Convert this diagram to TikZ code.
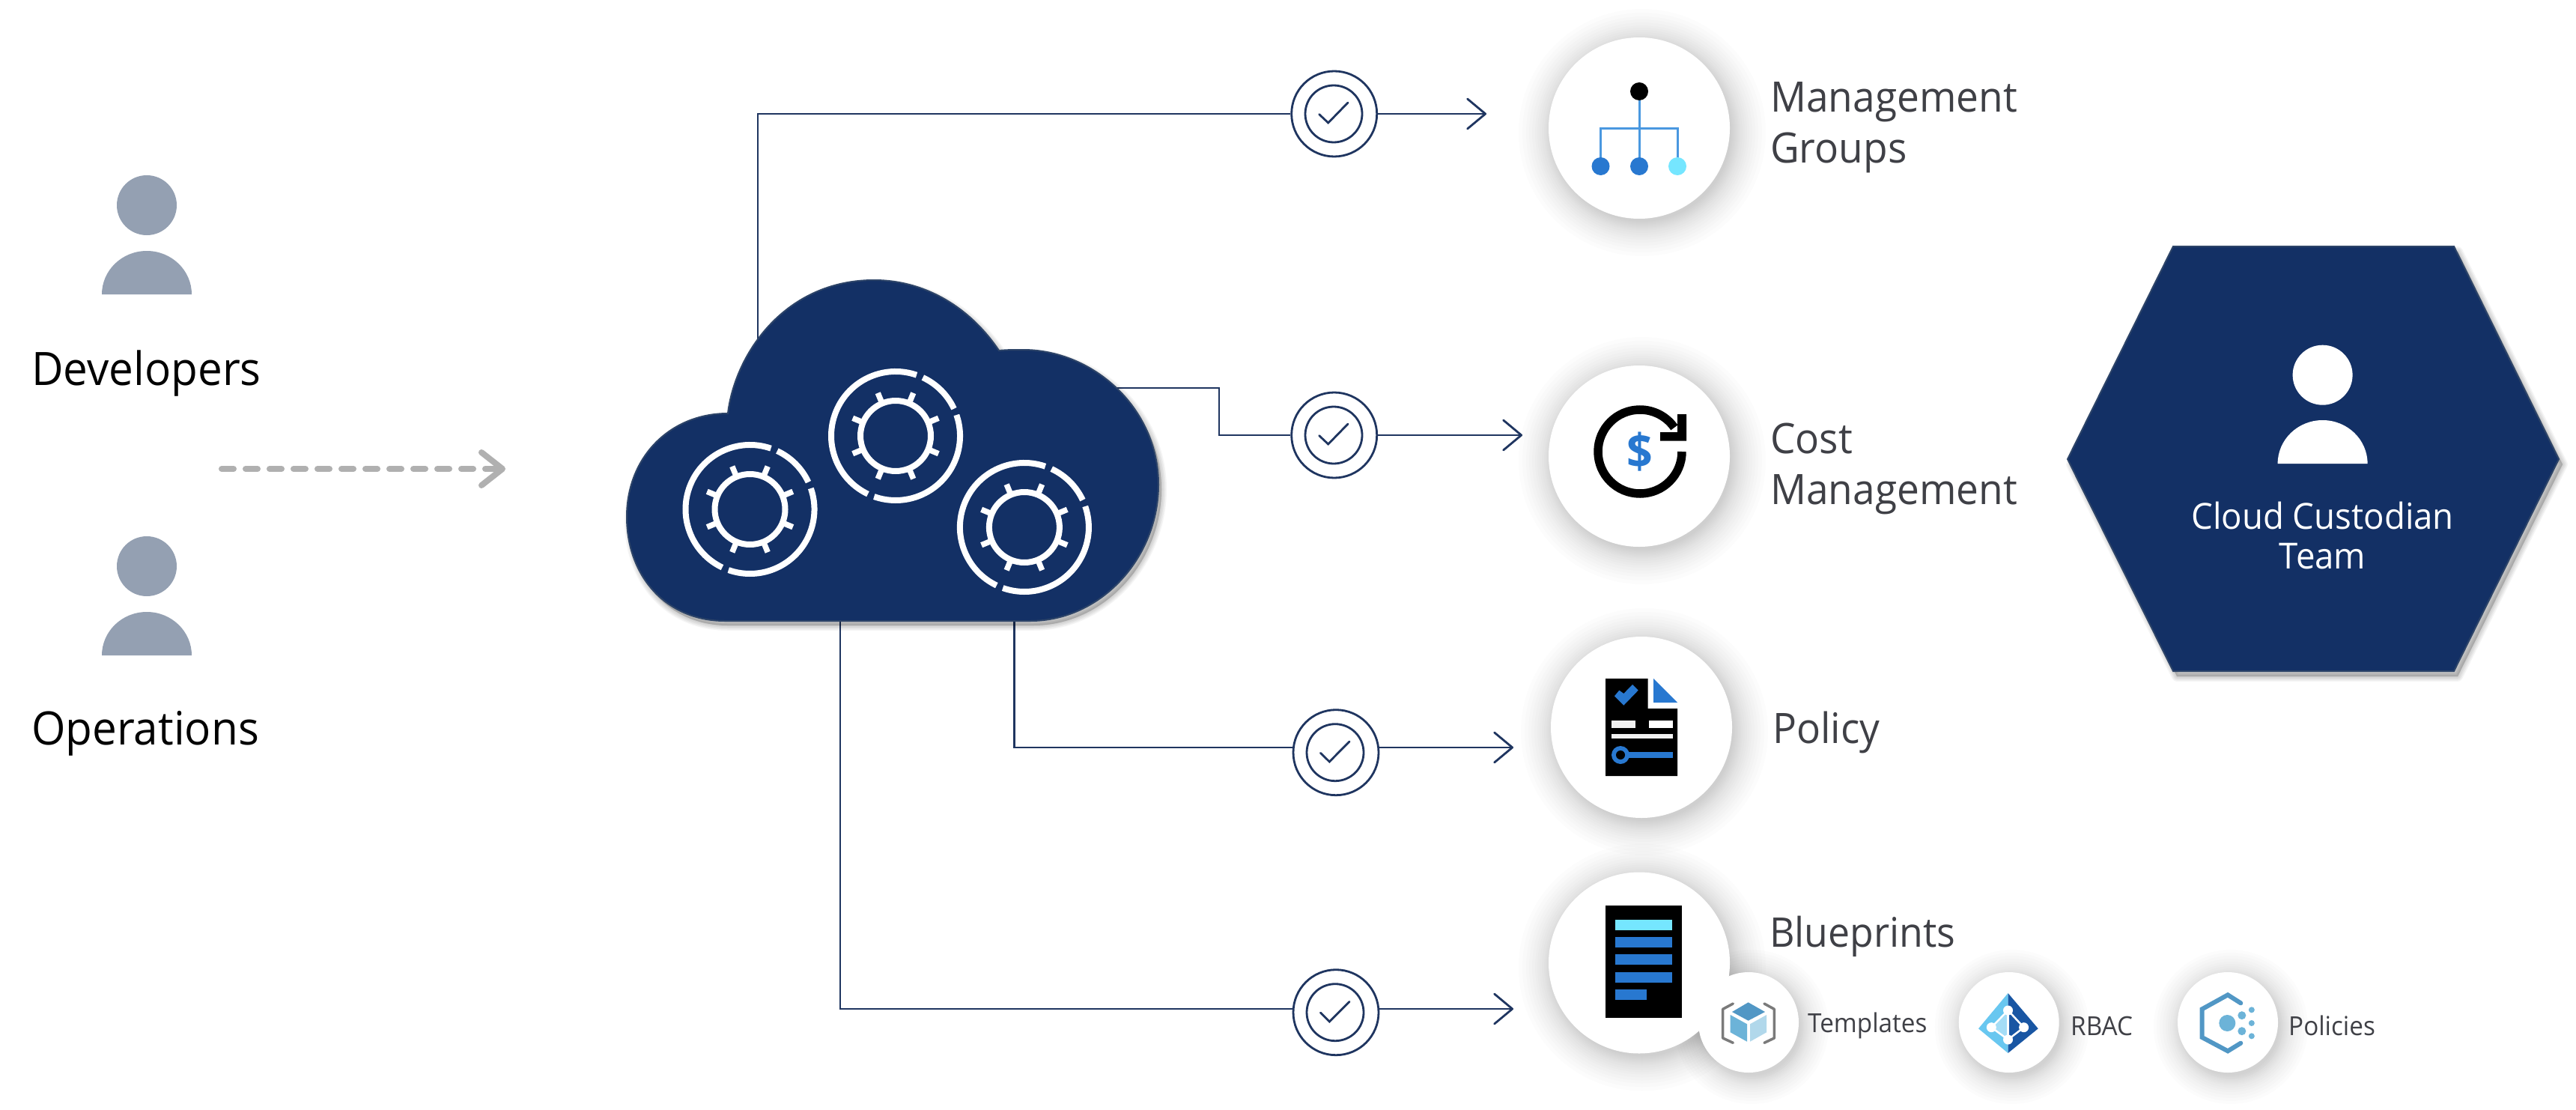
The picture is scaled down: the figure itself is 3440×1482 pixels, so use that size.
\documentclass[tikz,border=0pt]{standalone}
\usepackage{fontspec}
\setmainfont[FakeStretch=0.95]{Open Sans}
\usetikzlibrary{arrows.meta,calc}
\definecolor{navy}{HTML}{133065}
\definecolor{navyedge}{HTML}{2D4468}
\definecolor{wire}{HTML}{1F3560}
\definecolor{persongray}{HTML}{94A0B2}
\definecolor{labelgray}{HTML}{3F4046}
\definecolor{dashgray}{HTML}{B0B0B0}
\definecolor{iblue}{HTML}{2878D0}
\definecolor{icyan}{HTML}{75E6FF}
\definecolor{iline}{HTML}{4A98E0}
\definecolor{azA}{HTML}{5197C5}
\definecolor{azB}{HTML}{6CB3D8}
\definecolor{azC}{HTML}{B1D8EB}
\definecolor{azL}{HTML}{68C7F0}
\definecolor{azD}{HTML}{1956A3}
\definecolor{brk}{HTML}{7A7A7A}
\tikzset{
  x=1pt,y=-1pt,
  wireline/.style={draw=wire,line width=2.8pt},
  wirearrow/.style={wireline,-{Straight Barb[length=24pt,width=40pt,line width=2.8pt,round]}},
  checkouter/.style={circle,draw=wire,line width=2.8pt,fill=white,minimum size=114pt,inner sep=0pt},
  checkinner/.style={circle,draw=wire,line width=2.8pt,minimum size=76pt,inner sep=0pt},
  checkmark/.style={draw=wire,line width=2.8pt,line cap=round,line join=miter},
  disc/.style={circle,fill=white,inner sep=0pt,minimum size=242pt},
  smalldisc/.style={circle,fill=white,inner sep=0pt,minimum size=134pt},
  lbl/.style={anchor=base west,inner sep=0pt,align=left,text=labelgray,font=\fontsize{56}{68}\selectfont},
  smalllbl/.style={anchor=base west,inner sep=0pt,text=labelgray,font=\fontsize{35}{42}\selectfont},
  actor/.style={anchor=base west,inner sep=0pt,text=black,font=\fontsize{61.5}{70}\selectfont},
  gearline/.style={draw=white,line width=8pt},
}
\newcommand{\circshadow}[3]{%
  \foreach \dr in {-2,0,2,4,6,8,10,13,16,19,22,26,30,34,39,44}
    \fill[black,opacity=0.0125] (#1+4,#2+6) circle[radius=#3+\dr];}
\newcommand{\smallshadow}[3]{%
  \foreach \dr in {-2,0,2,3,5,7,9,11,14,17,20,24,28,32,36}
    \fill[black,opacity=0.012] (#1+4,#2+6) circle[radius=#3+\dr];}
\newcommand{\personicon}[4]{% x, head y, body bottom y, colour
  \fill[#4] (#1,#2) circle[radius=40];
  \fill[#4] (#1-60,#3) arc[start angle=180,end angle=360,x radius=60,y radius=58] -- cycle;}
\newcommand{\gearicon}[2]{%
  \begin{scope}[shift={(#1,#2)},yscale=-1]
    \draw[gearline] (71:86) arc[start angle=71,end angle=244.5,radius=86];
    \draw[gearline] (65:86) arc[start angle=65,end angle=25,radius=86];
    \draw[gearline] (19:86) arc[start angle=19,end angle=-109.5,radius=86];
    \draw[gearline] (0,0) circle[radius=47];
    \foreach \a in {22.5,67.5,...,337.5}
      \draw[draw=white,line width=7.5pt] (\a:47) -- (\a:62);
  \end{scope}}
\newcommand{\softpath}[3]{% dx dy path
  \foreach \w in {14,11,8,5,2}
    \path[shift={(#1,#2)},fill=black,fill opacity=0.04,draw=black,draw opacity=0.04,line width=\w pt,line join=round] #3;}
\def\cloudpath{(968,829) .. controls (890,829) and (837,770) .. (837,690)
  .. controls (837,610) and (895,552) .. (972,552)
  .. controls (982,470) and (1050,374) .. (1167,374)
  .. controls (1235,374) and (1295,410) .. (1334,468)
  .. controls (1345,467) and (1355,467) .. (1366,467)
  .. controls (1460,467) and (1547,545) .. (1547,647)
  .. controls (1547,745) and (1470,829) .. (1376,829) -- cycle}
\def\hexpath{(2761,613) -- (2902,329) -- (3277,329) -- (3417,613) -- (3277,896) -- (2902,896) -- cycle}
\begin{document}
\begin{tikzpicture}
\useasboundingbox (0,0) rectangle (3440,1482);
\fill[white] (0,0) rectangle (3440,1482);

% ---------- actors
\personicon{196}{274}{393}{persongray}
\node[actor] (devs) at (42,514) {Developers};
\personicon{196}{756}{875}{persongray}
\node[actor] (ops) at (42,994) {Operations};
\coordinate (dashstart) at (296,626);
\coordinate (dashend) at (675,626);
\draw[draw=dashgray,line width=8pt,line cap=round,dash pattern=on 16pt off 16pt,
  -{Straight Barb[length=28pt,width=44pt,line width=8pt,round]}] (dashstart) -- (dashend);

% ---------- cloud anchors
\node[inner sep=0pt,minimum width=712pt,minimum height=455pt] (cloud) at (1193,601) {};
\coordinate (p1) at (1012,480);
\coordinate (p2) at (1480,518);
\coordinate (p3) at (1354.6,800);
\coordinate (p4) at (1122,800);
\coordinate (bend2) at (1628,581);

% ---------- check badges
\node[checkouter] (c1) at (1781.7,152) {};
\node[checkinner] (c1i) at (1781,152) {};
\node[checkouter] (c2) at (1781.7,581) {};
\node[checkinner] (c2i) at (1781,581) {};
\node[checkouter] (c3) at (1784,1004.7) {};
\node[checkinner] (c3i) at (1783,1004.7) {};
\node[checkouter] (c4) at (1784,1351.7) {};
\node[checkinner] (c4i) at (1783,1351.7) {};
\draw[checkmark] (1761.7,152.7) -- (1773.7,164) -- (1800,137);
\draw[checkmark] (1761.7,581.7) -- (1773.7,593) -- (1800,566);
\draw[checkmark] (1763.3,1005.3) -- (1775.3,1017) -- (1802,990);
\draw[checkmark] (1763.3,1352) -- (1775.3,1364) -- (1802,1337.3);

\coordinate (t1) at (1985,152);
\coordinate (t2) at (2033,581);
\coordinate (t3) at (2021,998);
\coordinate (t4) at (2021,1347);
\coordinate (c3in) at (1727.5,998);
\coordinate (c3out) at (1840.5,998);
\coordinate (c4in) at (1727.5,1347);
\coordinate (c4out) at (1840.5,1347);

\draw[wireline] (p1) |- (c1.west);
\draw[wirearrow] (c1.east) -- (t1);
\draw[wireline] (p2) -| (bend2) -- (c2.west);
\draw[wirearrow] (c2.east) -- (t2);
\draw[wireline] (p3) |- (c3in);
\draw[wirearrow] (c3out) -- (t3);
\draw[wireline] (p4) |- (c4in);
\draw[wirearrow] (c4out) -- (t4);

% ---------- cloud
\softpath{4}{6}{\cloudpath}
\path[fill=navy,draw=navyedge,line width=2pt] \cloudpath;
\gearicon{1001.5}{680}
\gearicon{1196}{582}
\gearicon{1367.9}{704}

% ---------- hexagon
\softpath{5}{7}{\hexpath}
\path[fill=navy,draw=navyedge,line width=2pt,line join=miter] \hexpath;
\personicon{3101.6}{500.7}{619}{white}
\node[inner sep=0pt,align=center,text=white,font=\fontsize{48}{53}\selectfont,anchor=base] (team) at (3101.6,759) {Cloud Custodian\\Team};

% ---------- icon discs
\circshadow{2189}{171}{121}
\circshadow{2189}{609}{121}
\circshadow{2192}{971}{121}
\circshadow{2189}{1285.5}{121}
\smallshadow{2335}{1365}{67}
\smallshadow{2682.7}{1365}{67}
\smallshadow{2975}{1365}{67}
\node[disc] (d1) at (2189,171) {};
\node[disc] (d2) at (2189,609) {};
\node[disc] (d3) at (2192,971) {};
\node[disc] (d4) at (2189,1285.5) {};
\node[smalldisc] (s1) at (2335,1365) {};
\node[smalldisc] (s2) at (2682.7,1365) {};
\node[smalldisc] (s3) at (2975,1365) {};

% management groups icon
\draw[iline,line width=3pt] (2189,122) -- (2189,222);
\draw[iline,line width=3pt] (2137.5,222) -- (2137.5,171.5) -- (2240,171.5) -- (2240,222);
\fill[black] (2189,122) circle[radius=12];
\fill[iblue] (2137.5,222) circle[radius=12];
\fill[iblue] (2189,222) circle[radius=12];
\fill[icyan] (2240,222) circle[radius=12];

% cost icon
\draw[black,line width=11.5pt] (2246,603) arc[start angle=0,end angle=325,radius=56];
\fill[black] (2240,553) -- (2252,553) -- (2252,588.5) -- (2217,588.5) -- (2217,577) -- (2240,577) -- cycle;
\node[inner sep=0pt,text=iblue,font=\fontsize{64}{66}\selectfont\bfseries] (dollar) at (2190,603) {\$};

% policy icon
\fill[black] (2144,906) -- (2200.7,906) -- (2200.7,946) -- (2240,946) -- (2240,1036) -- (2144,1036) -- cycle;
\fill[iblue] (2208,906) -- (2208,938) -- (2240,938) -- cycle;
\fill[iblue] (2156,929.3) -- (2168.3,941.7) -- (2187.7,921.7) -- (2180,914) -- (2168.3,926) -- (2162.3,921.7) -- cycle;
\fill[white!95!black] (2152,962) rectangle (2184,972);
\fill[white] (2202,962) rectangle (2234,972);
\fill[white!95!black] (2152,980) rectangle (2234,986);
\fill[iblue] (2164,1004) rectangle (2234,1012);
\fill[iblue] (2164,1008) circle[radius=12];
\fill[black] (2164,1008) circle[radius=6];

% blueprint icon
\fill[black] (2143.6,1209) rectangle (2246.4,1359);
\fill[icyan] (2157,1227.7) rectangle (2233,1241.7);
\fill[iblue] (2157,1251) rectangle (2233,1265);
\fill[iblue] (2157,1274) rectangle (2233,1288);
\fill[iblue] (2157,1298) rectangle (2233,1312);
\fill[iblue] (2157,1321) rectangle (2199,1335);

% templates icon
\fill[azA] (2334.6,1338.3) -- (2357,1351) -- (2334.6,1362.7) -- (2313,1351) -- cycle;
\fill[azB] (2310.7,1355) -- (2333,1367.3) -- (2333,1390.7) -- (2310.7,1378.3) -- cycle;
\fill[azC] (2337,1367.3) -- (2359,1355) -- (2359,1378.3) -- (2337,1390.7) -- cycle;
\draw[brk,line width=3.5pt,line cap=round,line join=round] (2314.3,1340) -- (2300.7,1347.3) -- (2300.7,1386) -- (2314.3,1392.3);
\draw[brk,line width=3.5pt,line cap=round,line join=round] (2356,1340) -- (2369.3,1347.3) -- (2369.3,1386) -- (2356,1392.3);

% RBAC icon
\fill[azL] (2681.5,1326) -- (2642,1373.3) -- (2681.5,1406) -- cycle;
\fill[azD] (2681.5,1326) -- (2721.7,1373.3) -- (2681.5,1406) -- cycle;
\fill[azL!60!white] (2681.5,1349) -- (2659.3,1371.7) -- (2681.5,1388) -- cycle;
\draw[white,line width=2.5pt,line join=round] (2681.5,1349) -- (2659.3,1371.7) -- (2681.5,1388) -- (2702.6,1371.7) -- cycle;
\draw[white,line width=2.5pt] (2681.5,1349) -- (2681.5,1388);
\foreach \px/\py in {2681.5/1349,2659.3/1371.7,2702.6/1371.7,2681.5/1388}
  \fill[white] (\px,\py) circle[radius=6.5];

% policies icon
\draw[azA,line width=6pt,line cap=round,line join=miter] (2992.3,1339.3) -- (2975,1328.3) -- (2940.6,1347.3) -- (2940.6,1385) -- (2975,1403.3) -- (2992.3,1392.7);
\fill[azB] (2974.3,1366) circle[radius=11];
\fill[azB] (2993.8,1355.7) circle[radius=5.5];
\fill[azB] (2993.8,1376.7) circle[radius=5.5];
\fill[azB] (3006.8,1348.3) circle[radius=4];
\fill[azB] (3006.8,1366) circle[radius=4];
\fill[azB] (3006.8,1383.3) circle[radius=4];

% ---------- labels
\node[lbl] (mg) at (2364,218) {Management\\Groups};
\node[lbl] (cm) at (2364,673) {Cost\\Management};
\node[lbl] (pol) at (2367,992) {Policy};
\node[lbl,font=\fontsize{54.5}{68}\selectfont] (bp) at (2363,1264) {Blueprints};
\node[smalllbl] (tpl) at (2414,1378) {Templates};
\node[smalllbl] (rbac) at (2765,1382) {RBAC};
\node[smalllbl] (pols) at (3056,1382) {Policies};
\end{tikzpicture}
\end{document}
